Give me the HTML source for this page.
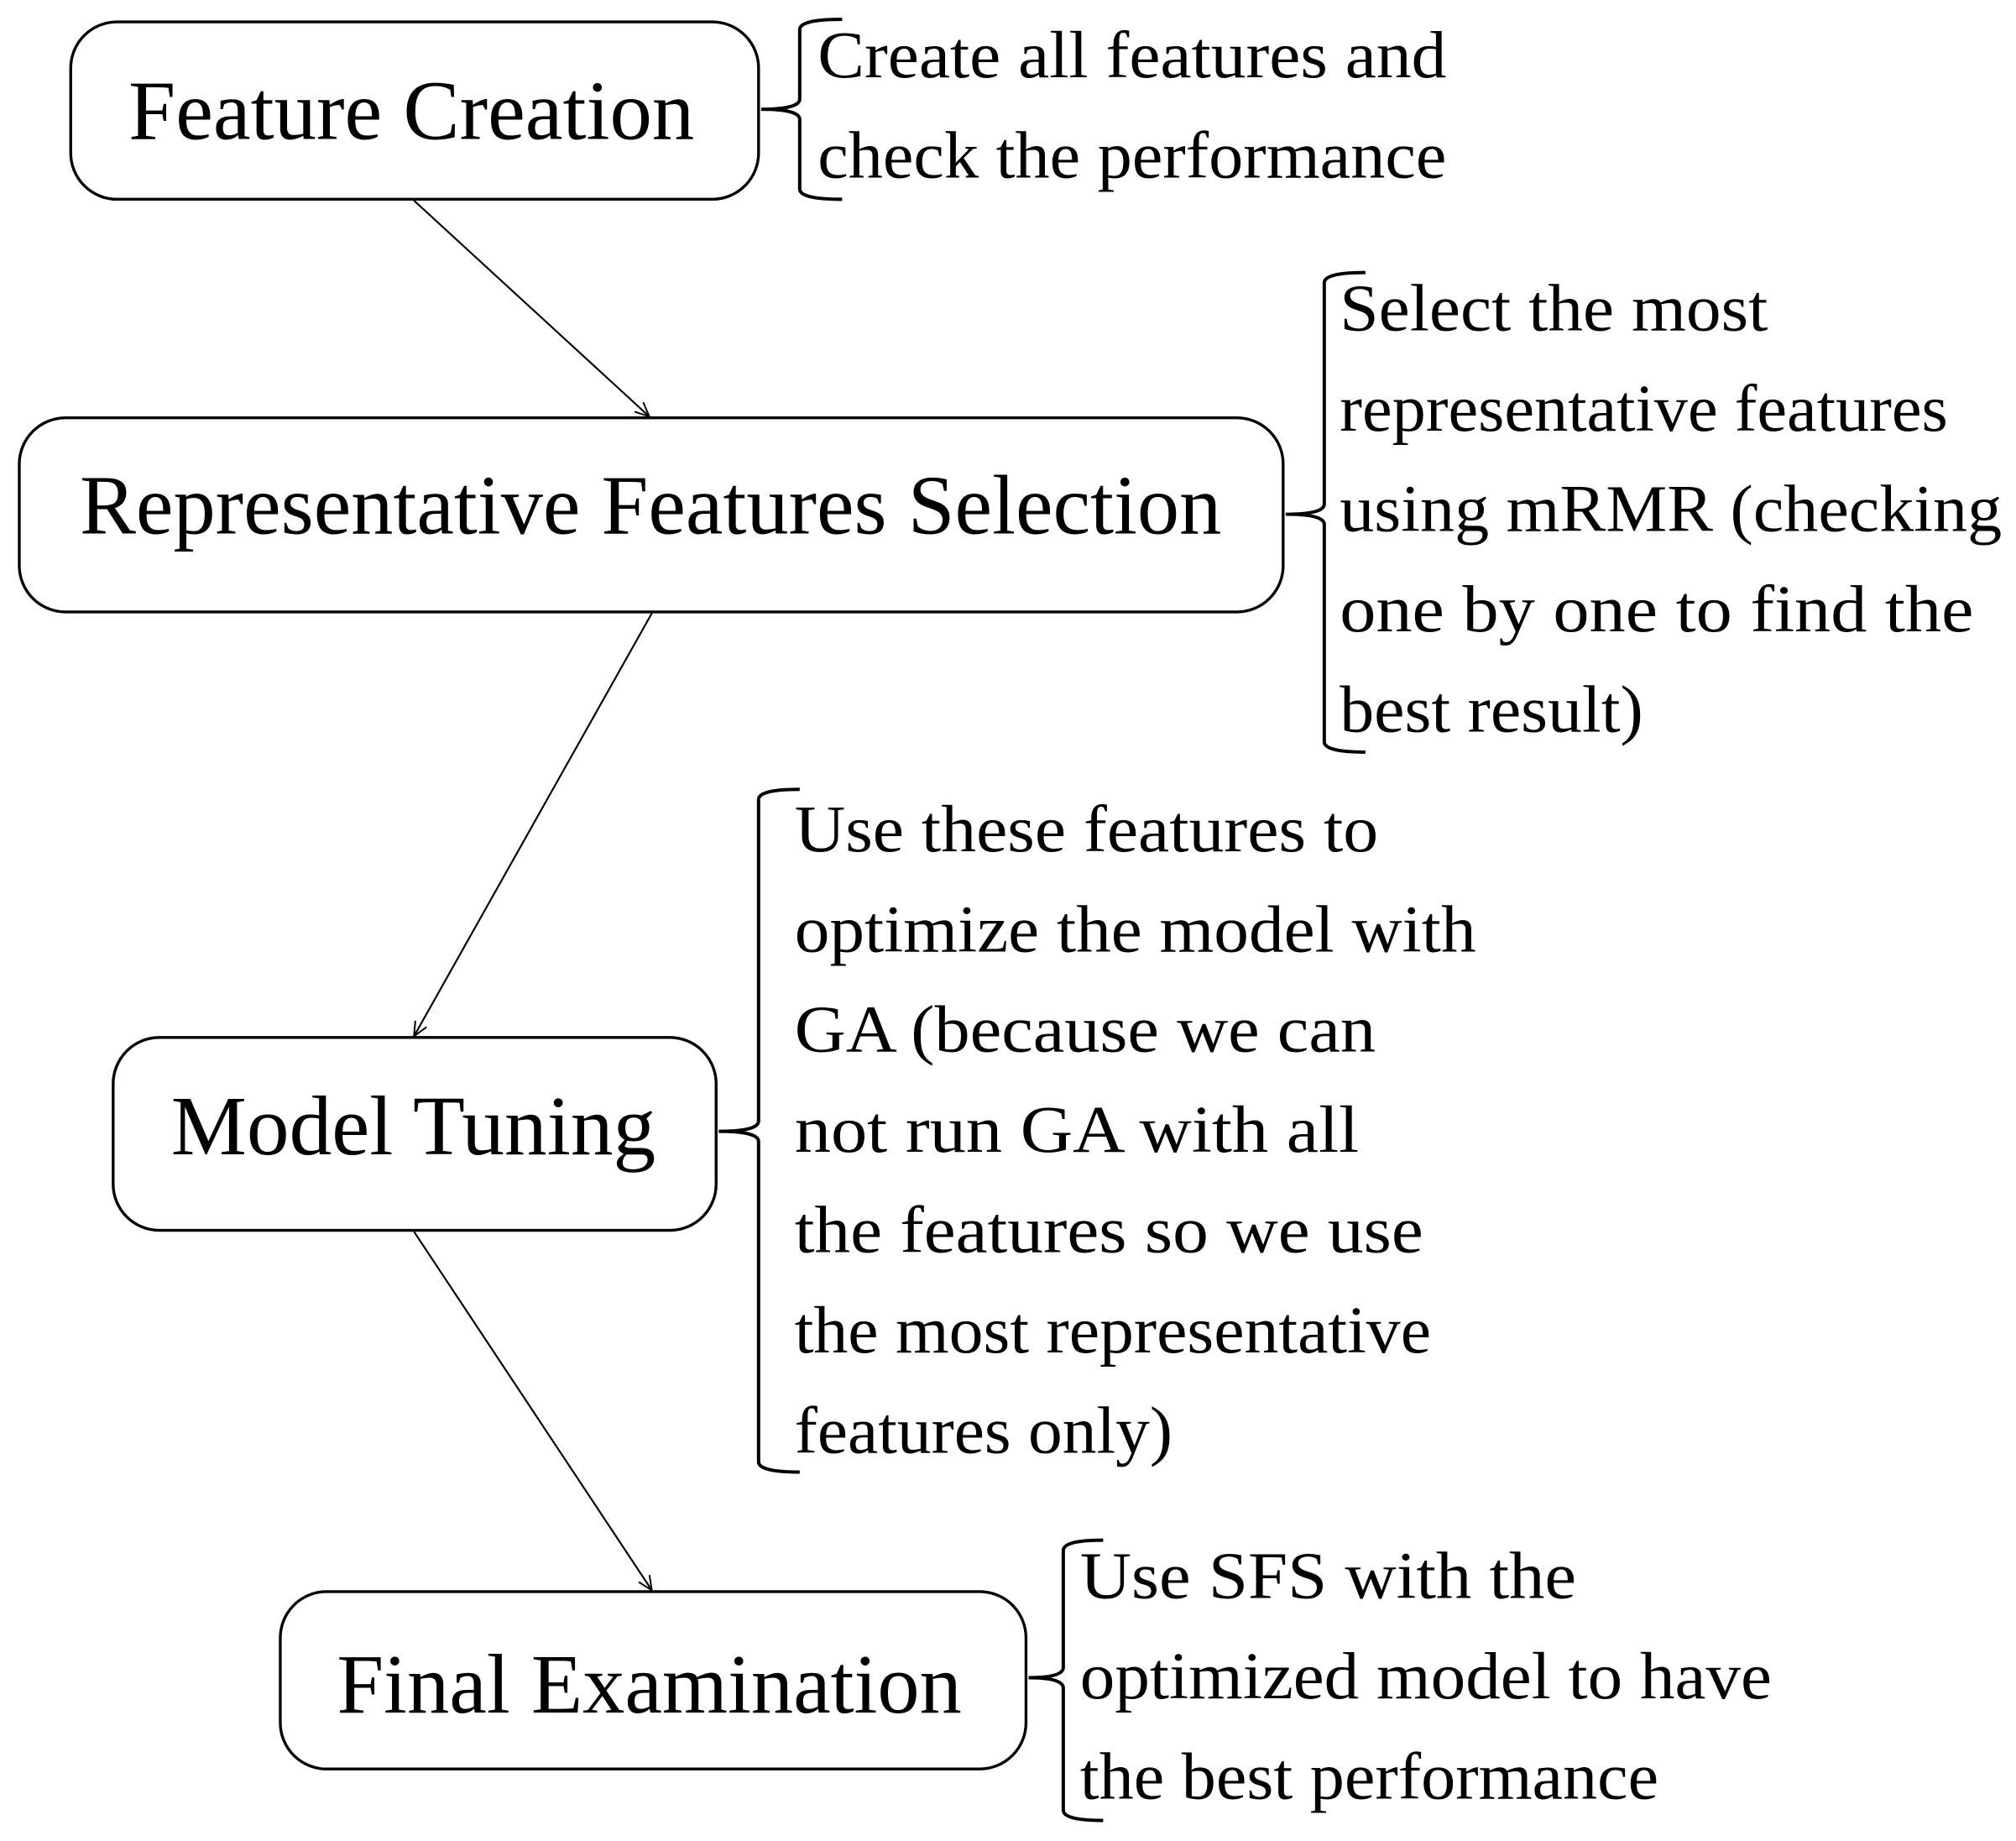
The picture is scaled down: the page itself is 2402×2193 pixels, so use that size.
<!DOCTYPE html>
<html><head><meta charset="utf-8"><style>
html,body{margin:0;padding:0;background:#fff}
svg{display:block}
text{font-family:"Liberation Serif",serif;fill:#000}
</style></head><body>
<svg width="2402" height="2193" viewBox="0 0 1568 1432" preserveAspectRatio="none" xmlns="http://www.w3.org/2000/svg">
<defs><marker id="a" markerWidth="14" markerHeight="14" refX="12" refY="7" orient="auto" markerUnits="userSpaceOnUse"><path d="M1,2 L12,7 L1,12" fill="none" stroke="#000" stroke-width="1.3"/></marker></defs>
<g fill="#fff" stroke="#000" stroke-width="2.2">
<rect x="55" y="17" width="535" height="138" rx="36"/>
<rect x="15" y="325" width="983" height="151" rx="36"/>
<rect x="88" y="807" width="469" height="150" rx="36"/>
<rect x="218" y="1238" width="580" height="138" rx="36"/>
</g>
<g stroke="#000" stroke-width="1.4" fill="none" marker-end="url(#a)">
<line x1="322" y1="156" x2="505" y2="324"/>
<line x1="507" y1="477" x2="322" y2="806"/>
<line x1="322" y1="958" x2="507" y2="1237"/>
</g>
<g stroke="#000" stroke-width="2.6" fill="none">
<path d="M655 15 Q622 15 622 23 L622 77 Q622 85 592 85 Q622 85 622 93 L622 147 Q622 155 655 155"/>
<path d="M1062 212 Q1030 212 1030 220 L1030 392 Q1030 400 1000 400 Q1030 400 1030 408 L1030 577 Q1030 585 1062 585"/>
<path d="M622 614 Q590 614 590 622 L590 872 Q590 880 559 880 Q590 880 590 888 L590 1137 Q590 1145 622 1145"/>
<path d="M858 1198 Q827 1198 827 1206 L827 1297 Q827 1305 800 1305 Q827 1305 827 1313 L827 1408 Q827 1416 858 1416"/>
</g>
<g font-size="66">
<text x="100" y="108" textLength="440" lengthAdjust="spacingAndGlyphs">Feature Creation</text>
<text x="62" y="415" textLength="888" lengthAdjust="spacingAndGlyphs">Representative Features Selection</text>
<text x="133" y="898" textLength="377" lengthAdjust="spacingAndGlyphs">Model Tuning</text>
<text x="262" y="1332" textLength="486" lengthAdjust="spacingAndGlyphs">Final Examination</text>
</g>
<g font-size="52">
<text x="636" y="60" textLength="489" lengthAdjust="spacingAndGlyphs">Create all features and</text>
<text x="636" y="138" textLength="489" lengthAdjust="spacingAndGlyphs">check the performance</text>
<text x="1042" y="257" textLength="333" lengthAdjust="spacingAndGlyphs">Select the most</text>
<text x="1042" y="335" textLength="473" lengthAdjust="spacingAndGlyphs">representative features</text>
<text x="1042" y="413" textLength="515" lengthAdjust="spacingAndGlyphs">using mRMR (checking</text>
<text x="1042" y="491" textLength="493" lengthAdjust="spacingAndGlyphs">one by one to find the</text>
<text x="1042" y="569" textLength="236" lengthAdjust="spacingAndGlyphs">best result)</text>
<text x="618" y="662" textLength="454" lengthAdjust="spacingAndGlyphs">Use these features to</text>
<text x="618" y="740" textLength="530" lengthAdjust="spacingAndGlyphs">optimize the model with</text>
<text x="618" y="818" textLength="452" lengthAdjust="spacingAndGlyphs">GA (because we can</text>
<text x="618" y="896" textLength="439" lengthAdjust="spacingAndGlyphs">not run GA with all</text>
<text x="618" y="974" textLength="489" lengthAdjust="spacingAndGlyphs">the features so we use</text>
<text x="618" y="1052" textLength="495" lengthAdjust="spacingAndGlyphs">the most representative</text>
<text x="618" y="1130" textLength="294" lengthAdjust="spacingAndGlyphs">features only)</text>
<text x="840" y="1243" textLength="386" lengthAdjust="spacingAndGlyphs">Use SFS with the</text>
<text x="840" y="1321" textLength="538" lengthAdjust="spacingAndGlyphs">optimized model to have</text>
<text x="840" y="1399" textLength="450" lengthAdjust="spacingAndGlyphs">the best performance</text>
</g>
</svg>
</body></html>
